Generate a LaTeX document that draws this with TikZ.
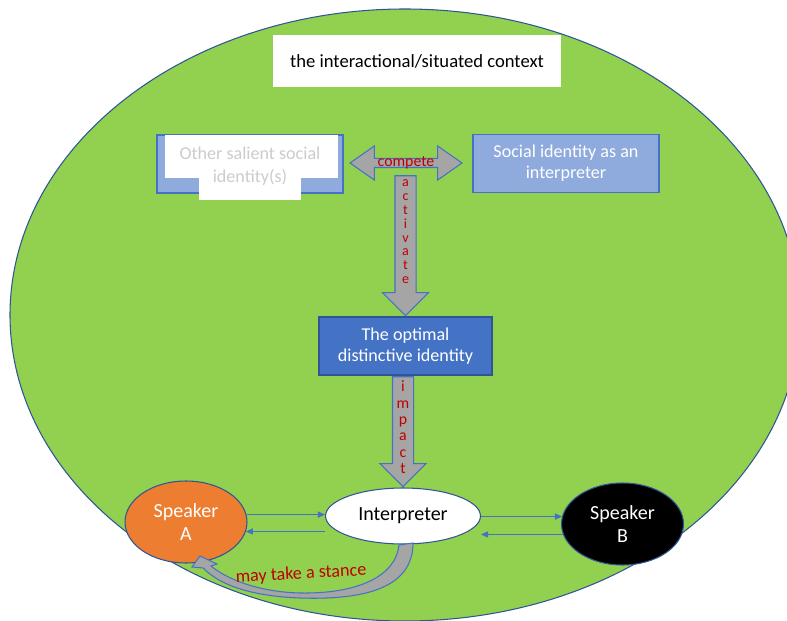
\documentclass[tikz,border=0pt]{standalone}
\usepackage{fontspec}
\setmainfont{Carlito}
\usepackage{xcolor}
\usetikzlibrary{shapes.geometric, shapes.arrows, arrows.meta, calc, positioning}

\definecolor{grass}{HTML}{92D050}
\definecolor{edgeblue}{HTML}{2F5597}
\definecolor{paleblue}{HTML}{8FAADC}
\definecolor{midblue}{HTML}{4472C4}
\definecolor{spkorange}{HTML}{ED7D31}
\definecolor{arrowgray}{HTML}{A5A5A5}
\definecolor{verbred}{HTML}{C00000}

\begin{document}
\begin{tikzpicture}[x=0.02cm, y=-0.02cm, line width=0.6pt,
    idbox/.style = {draw=midblue, fill=paleblue, minimum width=3.72cm, minimum height=1.16cm, text=white, align=center, font=\fontsize{10.3}{12}\selectfont},
    person/.style = {draw=edgeblue, ellipse, inner sep=0pt, minimum width=2.44cm, minimum height=1.64cm, text=white, align=center, font=\fontsize{11.4}{13.6}\selectfont},
    block/.style = {single arrow, draw=midblue, fill=arrowgray, inner xsep=0pt, inner ysep=0.2cm, rotate=-90, anchor=tip},
    verb/.style = {text=verbred, align=center, inner sep=0pt},
    flow/.style = {draw=midblue, line width=0.5pt, -{Triangle[length=4pt,width=3.5pt]}}]
    \useasboundingbox (0,0) rectangle (787,621);
    \draw[edgeblue, fill=grass] (405,315) ellipse [x radius=395, y radius=306];

    \node[fill=white, minimum width=5.76cm, minimum height=1.04cm, font=\fontsize{10.6}{12}\selectfont] (title) at (417,61)
        {the interactional/situated context};

    % identities
    \node [idbox] (other) at (250,164) {};
    \fill[white] (165,135) rectangle (338,178);
    \fill[white] (199,170) rectangle (301,200);
    \node[align=center, text=gray!40, font=\fontsize{10.3}{13}\selectfont] (othertext) at (250,166)
        {Other salient social\\identity(s)};
    \node [idbox] (social) at (566,163.5) {Social identity as an\\interpreter};
    \node [idbox, fill=midblue, draw=edgeblue, minimum width=3.46cm] (optimal) at (405.5,346) {The optimal\\distinctive identity};

    \node[double arrow, draw=midblue, fill=arrowgray, inner xsep=0pt, inner ysep=0.08cm, minimum width=0.32cm,
        minimum height=2.24cm, double arrow tip angle=70] (comp) at (406,163) {};
    \node[verb, font=\fontsize{9}{10}\selectfont] (compword) at (comp) {compete};

    \node[block, minimum height=2.8cm, minimum width=0.82cm] (act) at (optimal.north) {};
    \node[verb, font=\fontsize{8}{7.9}\selectfont] (actword) at ($(act.tail)!0.4!(act.tip)$) {a\\c\\t\\i\\v\\a\\t\\e};

    % people
    \node [person, fill=white, text=black, minimum width=3.1cm, minimum height=1.12cm] (interp) at (403,516) {Interpreter};
    \node [person, fill=spkorange] (spkA) at (186,522) {Speaker\\A};
    \node [person, fill=black] (spkB) at (622.5,524) {Speaker\\B};

    \node[block, minimum height=2.2cm, minimum width=0.9cm] (imp) at (interp.north) {};
    \node[verb, font=\fontsize{9}{9.3}\selectfont] (impword) at ($(imp.tail)!0.46!(imp.tip)$) {i\\m\\p\\a\\c\\t};

    \draw[flow] (spkA.7) -- (spkA.7 -| interp.west);
    \draw[flow] (interp.west |- spkA.-9) -- (spkA.-9);
    \draw[flow] (interp.east |- spkB.173) -- (spkB.173);
    \draw[flow] (spkB.-170) -- (interp.east |- spkB.-170);

    % curved block arrow back to A
    \draw[midblue, fill=arrowgray] (413,543) .. controls (413,590) and (360,600) .. (300,598)
        .. controls (250,596) and (220,585) .. (203,568) -- (192,567) -- (200,556) -- (217,564) -- (211,566)
        .. controls (228,580) and (260,592) .. (300,593) .. controls (360,594) and (396,575) .. (399,545) -- cycle;
    \node[verb, rotate=3, font=\fontsize{10.3}{12}\selectfont] (stance) at (301,574) {may take a stance};
\end{tikzpicture}
\end{document}
